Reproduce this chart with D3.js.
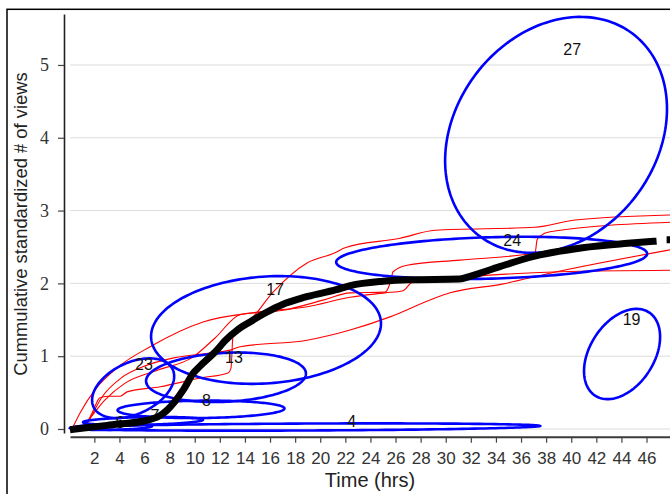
<!DOCTYPE html>
<html>
<head>
<meta charset="utf-8">
<script src="https://cdn.jsdelivr.net/npm/d3@7"></script>
<style>
  body { margin: 0; background: #fff; }
  svg { display: block; }
</style>
</head>
<body>
<div id="chart"></div>
<script>
// tick labels
const xTicks = d3.range(2, 48, 2);
const yTicks = [0, 1, 2, 3, 4, 5];

// individual videos: [hours, cumulative standardized views]
const videoA = [[0.54, 0], [1.26, 0.05], [1.82, 0.22], [2.45, 0.43], [3.25, 0.45], [4.05, 0.45], [4.61, 0.51],
  [7.24, 0.58], [10.42, 0.70], [12.65, 0.77], [12.89, 0.84], [13.05, 1.29], [13.37, 1.40], [14.41, 1.50],
  [16.24, 1.88], [18.95, 2.28], [21.18, 2.42], [21.97, 2.49], [26.36, 2.62], [29.15, 2.73], [37.12, 2.77],
  [40.3, 2.87], [47.87, 2.94]];
const videoB = [[0.22, 0], [0.86, 0.22], [2.06, 0.54], [3.81, 0.84], [6.44, 1.13], [10.66, 1.47], [15.2, 1.61],
  [18.95, 1.68], [22.38, 1.81], [25.16, 1.87], [26.6, 1.90], [27.31, 2.01], [31.78, 2.09], [39.11, 2.16],
  [47.87, 2.18]];
const videoC = [[0.78, 0], [1.50, 0.12], [2.85, 0.40], [4.45, 0.63], [7.08, 0.81], [9.78, 0.98], [11.62, 1.25],
  [13.61, 1.57], [17.04, 1.63], [20.22, 1.77], [22.38, 1.87], [25.16, 1.88], [25.64, 2.05], [25.80, 2.16],
  [26.92, 2.25], [31.14, 2.32], [37.12, 2.42], [37.28, 2.60], [37.52, 2.65], [38.31, 2.71], [47.87, 2.84]];
const videoD = [[1.02, 0], [1.50, 0.10], [2.61, 0.44], [4.21, 0.71], [5.80, 0.85], [8.43, 0.98], [11.06, 1.04],
  [12.97, 1.09], [13.61, 1.13], [18.95, 1.22], [22.38, 1.36], [25.56, 1.54], [29.15, 1.80], [30.34, 1.87],
  [34.49, 1.99], [38.31, 2.14], [47.87, 2.46]];
const videos = [videoA, videoB, videoC, videoD];

// mean curve (null = gap)
const meanHrs = [0.06, 3.0, 6.2, 7.2, 7.8, 9.1, 9.9, 10.4, 11.8, 12.4, 13.4, 14.4, 15.8, 17.0, 18.4, 19.0,
  21.2, 22.4, 25.0, 27.0, 31.1, 32.0, 34.3, 37.0, 40.9, 44.5, 46.8, 47.2, 47.6, 47.87];
const meanViews = [-0.01, 0.05, 0.12, 0.18, 0.26, 0.54, 0.77, 0.86, 1.09, 1.21, 1.36, 1.47, 1.61, 1.71, 1.79,
  1.82, 1.91, 1.97, 2.03, 2.05, 2.06, 2.10, 2.23, 2.37, 2.49, 2.55, 2.58, null, 2.60, 2.60];

// clusters: mean, spread and correlation
const clusterIds = [27, 24, 17, 13, 23, 8, 7, 6, 4, 19];
const clusterHrs = [38.79, 33.66, 15.68, 12.49, 5.09, 10.50, 5.88, 3.41, 18.79, 44.05];
const clusterViews = [4.04, 2.35, 1.36, 0.71, 0.56, 0.27, 0.11, 0.027, 0.027, 1.03];
const clusterSdHrs = [8.84, 12.39, 9.16, 6.37, 3.27, 6.65, 4.78, 3.19, 18.73, 3.03];
const clusterSdViews = [1.62, 0.29, 0.74, 0.34, 0.41, 0.12, 0.055, 0.04, 0.05, 0.62];
const clusterCorr = [0.22, 0.2, 0.12, 0.15, 0.4, 0.1, 0.3, 0.3, 0.3, 0.38];

const width = 670;
const height = 494;
const sans = 'Liberation Sans, Arial, sans-serif';
const serif = 'Liberation Serif, Times New Roman, serif';

const svg = d3
  .select('#chart')
  .append('svg')
  .attr('width', width)
  .attr('height', height);

// outer frame of the figure
svg
  .append('rect')
  .attr('x', 7)
  .attr('y', 9.3)
  .attr('width', 900)
  .attr('height', 700)
  .attr('fill', 'none')
  .attr('stroke', '#000')
  .attr('stroke-width', 1.5);

const x = d3.scaleLinear().domain([0.06, 47.87]).range([70, 670]);
const y = d3.scaleLinear().domain([-0.055, 5.7]).range([433, 14]);

// horizontal grid
svg
  .append('g')
  .selectAll('line')
  .data(yTicks)
  .join('line')
  .attr('x1', x.range()[0])
  .attr('x2', x.range()[1])
  .attr('y1', (d) => y(d))
  .attr('y2', (d) => y(d))
  .attr('stroke', '#dcdcdc')
  .attr('stroke-width', 1);

// axes
const xAxis = svg
  .append('g')
  .attr('transform', 'translate(0,436.7)')
  .call(d3.axisBottom(x).tickValues(xTicks).tickSize(6).tickSizeOuter(0).tickPadding(9));
xAxis.attr('font-family', sans).attr('font-size', 17);
xAxis.select('.domain').attr('stroke', '#3a3a3a').attr('stroke-width', 2);
xAxis.selectAll('.tick line').attr('stroke', '#444').attr('stroke-width', 1.2);
xAxis.selectAll('.tick text').attr('fill', '#333');

const yAxis = svg
  .append('g')
  .attr('transform', 'translate(64,0)')
  .call(
    d3.axisLeft(y).tickValues(yTicks).tickFormat(d3.format('d'))
      .tickSize(6).tickSizeOuter(0).tickPadding(9),
  );
yAxis.attr('font-family', serif).attr('font-size', 18);
yAxis.select('.domain').attr('stroke', '#222').attr('stroke-width', 1.6);
yAxis.selectAll('.tick line').attr('stroke', '#444').attr('stroke-width', 1.2);
yAxis.selectAll('.tick text').attr('fill', '#333');

// individual videos
const smooth = d3
  .line()
  .x((d) => x(d[0]))
  .y((d) => y(d[1]))
  .curve(d3.curveMonotoneX);

svg
  .append('g')
  .selectAll('path')
  .data(videos)
  .join('path')
  .attr('d', smooth)
  .attr('fill', 'none')
  .attr('stroke', '#ff0000')
  .attr('stroke-width', 1.1);

// cluster ellipses
const clusters = clusterIds.map((id, i) => ({
  id,
  mx: clusterHrs[i],
  my: clusterViews[i],
  sx: clusterSdHrs[i],
  sy: clusterSdViews[i],
  r: clusterCorr[i],
}));

const angles = d3.range(0, 2 * Math.PI, Math.PI / 90);
function ellipsePoints(c) {
  const k = Math.sqrt(1 - c.r * c.r);
  return angles.map((t) => [
    c.mx + c.sx * Math.cos(t),
    c.my + c.sy * (c.r * Math.cos(t) + k * Math.sin(t)),
  ]);
}

const closed = d3
  .line()
  .x((d) => x(d[0]))
  .y((d) => y(d[1]))
  .curve(d3.curveLinearClosed);

svg
  .append('g')
  .selectAll('path')
  .data(clusters)
  .join('path')
  .attr('d', (c) => closed(ellipsePoints(c)))
  .attr('fill', 'none')
  .attr('stroke', '#0000ff')
  .attr('stroke-width', 2.6);

// cluster labels, near the top of each ellipse
svg
  .append('g')
  .selectAll('text')
  .data(clusters)
  .join('text')
  .attr('x', (c) => x(c.mx + 0.66 * c.r * c.sx))
  .attr('y', (c) => y(c.my + 0.7 * c.sy) - 3)
  .attr('dy', '0.35em')
  .attr('text-anchor', 'middle')
  .attr('font-family', sans)
  .attr('font-size', 16)
  .attr('fill', '#111')
  .text((c) => c.id);

// mean curve
const meanData = meanHrs.map((h, i) => [h, meanViews[i]]);
svg
  .append('path')
  .datum(meanData)
  .attr('d', smooth.defined((d) => d[1] !== null))
  .attr('fill', 'none')
  .attr('stroke', '#000')
  .attr('stroke-width', 7)
  .attr('stroke-linejoin', 'round');

// axis titles
svg
  .append('text')
  .attr('x', 370)
  .attr('y', 487)
  .attr('text-anchor', 'middle')
  .attr('font-family', sans)
  .attr('font-size', 20)
  .attr('fill', '#222')
  .text('Time (hrs)');

const yTitle = svg
  .append('text')
  .attr('transform', 'translate(27,224) rotate(-90)')
  .attr('text-anchor', 'middle')
  .attr('font-family', sans)
  .attr('font-size', 18.4)
  .attr('fill', '#222');
yTitle.append('tspan').text('Cummulative standardized ');
yTitle.append('tspan').attr('font-family', serif).text('#');
yTitle.append('tspan').text(' of views');
</script>
</body>
</html>
